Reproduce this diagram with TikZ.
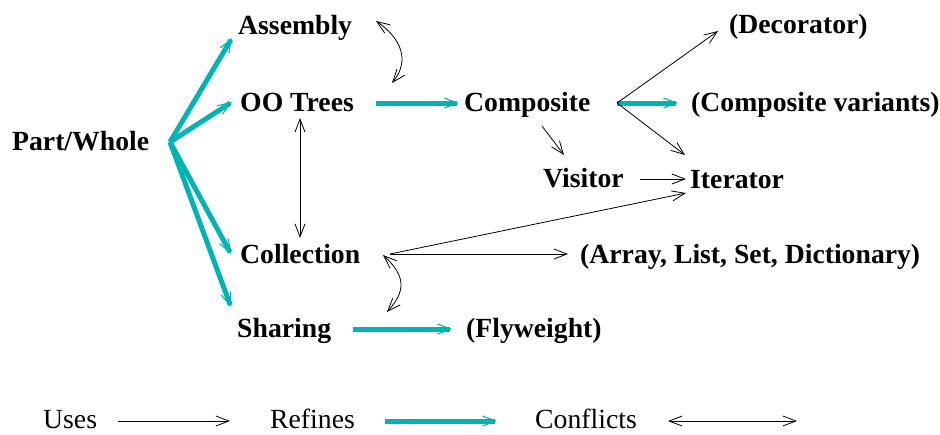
\documentclass[tikz,border=0pt]{standalone}
\usepackage{fontspec}
\setmainfont{Liberation Serif}
\usetikzlibrary{arrows.meta,calc}
\definecolor{tealc}{RGB}{0,178,178}
\begin{document}
\begin{tikzpicture}[x=1pt,y=-1pt,
 lbl/.style={anchor=base west,inner sep=0pt,font=\fontsize{27.7}{30}\selectfont\bfseries},
 leg/.style={anchor=base west,inner sep=0pt,font=\fontsize{27.7}{30}\selectfont},
 uses/.style={draw=black,line width=0.8pt,-{Straight Barb[length=13pt,width=10pt]}},
 refines/.style={draw=tealc,line width=5pt,-{Straight Barb[length=13pt,width=10pt,line width=1.1pt]}},
 conflicts/.style={draw=black,line width=0.8pt,{Straight Barb[length=13pt,width=10pt]}-{Straight Barb[length=13pt,width=10pt]}}]
\useasboundingbox (0,0) rectangle (940,434);

\node[lbl] (pw) at (12,150) {Part/Whole};
\node[lbl] (asm) at (238,34) {Assembly};
\node[lbl] (oo) at (240,111) {OO Trees};
\node[lbl] (comp) at (464,111) {Composite};
\node[lbl] (dec) at (729,33) {(Decorator)};
\node[lbl] (cv) at (691,111) {(Composite variants)};
\node[lbl] (vis) at (543,187) {Visitor};
\node[lbl] (it) at (690,188) {Iterator};
\node[lbl] (coll) at (240,263) {Collection};
\node[lbl] (arr) at (580,263) {(Array, List, Set, Dictionary)};
\node[lbl] (sh) at (237,337) {Sharing};
\node[lbl] (fly) at (466,337) {(Flyweight)};

\node[leg] (luses) at (43,428) {Uses};
\node[leg] (lref) at (270,428) {Refines};
\node[leg] (lcon) at (535,428) {Conflicts};

% hubs
\coordinate (pwh) at ([shift={(158,-8)}]pw.base west);
\coordinate (comph) at ([shift={(153,-8)}]comp.base west);
\coordinate (collh) at ([shift={(150,-9)}]coll.base west);

% refines
\draw[refines] (pwh) -- ([shift={(-6,4)}]asm.base west);
\draw[refines] (pwh) -- ([shift={(-8,-9)}]oo.base west);
\draw[refines] (pwh) -- ([shift={(-9,-9)}]coll.base west);
\draw[refines] (pwh) -- ([shift={(-6,-30)}]sh.base west);
\draw[refines] ([shift={(136,-8)}]oo.base west) -- ([shift={(-5,-8)}]comp.base west);
\draw[refines] (comph) -- ([shift={(-13,-8)}]cv.base west);
\draw[refines] ([shift={(116,-8)}]sh.base west) -- ([shift={(-14,-8)}]fly.base west);

% uses
\draw[uses] (comph) -- ([shift={(-11,-2)}]dec.base west);
\draw[uses] (comph) -- ([shift={(-5,-33)}]it.base west);
\draw[uses] ([shift={(78,15)}]comp.base west) -- ([shift={(21,-32)}]vis.base west);
\draw[uses] ([shift={(97,-8)}]vis.base west) -- ([shift={(-4,-9)}]it.base west);
\draw[uses] (collh) -- ([shift={(-4,5)}]it.base west);
\draw[uses] (collh) -- ([shift={(-12,-9)}]arr.base west);

% conflicts
\draw[conflicts] ([shift={(60,7)}]oo.base west) -- ([shift={(60,-25)}]coll.base west);
\draw[conflicts] ([shift={(138,-13)}]asm.base west) .. controls +(26,18) and +(18,-22) .. ([shift={(152,-28)}]oo.base west);
\draw[conflicts] ([shift={(143,-8)}]coll.base west) .. controls +(24,22) and +(18,-20) .. ([shift={(150,-25)}]sh.base west);

% legend
\draw[uses] ([shift={(75,-7)}]luses.base west) -- ([shift={(187,-7)}]luses.base west);
\draw[refines] ([shift={(115,-7)}]lref.base west) -- ([shift={(227,-7)}]lref.base west);
\draw[conflicts] ([shift={(133,-7)}]lcon.base west) -- ([shift={(262,-7)}]lcon.base west);
\end{tikzpicture}
\end{document}
